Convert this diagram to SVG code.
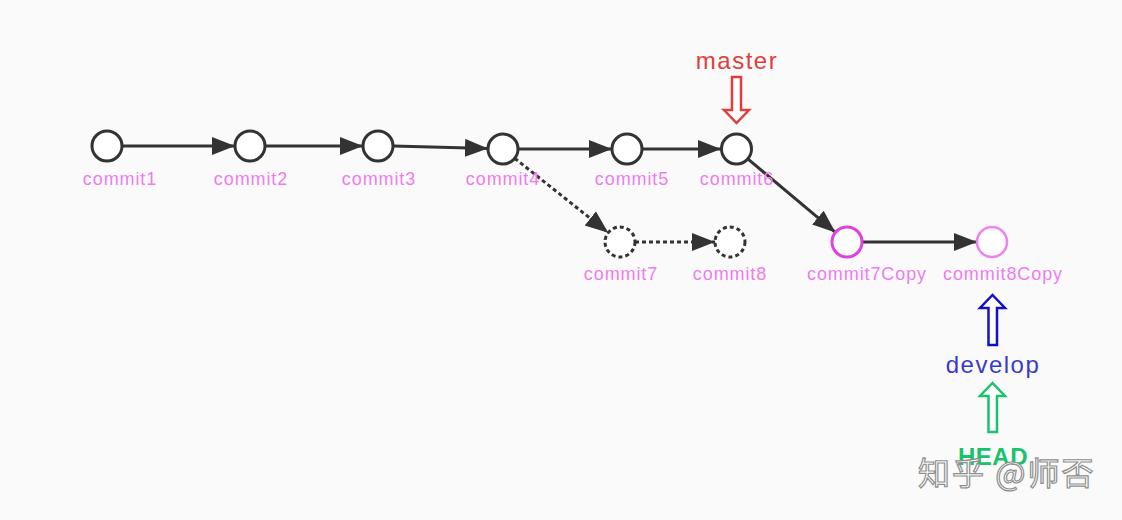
<svg xmlns="http://www.w3.org/2000/svg" width="1122" height="520" viewBox="0 0 1122 520">
<style>
.node{fill:#fff;stroke:#333;stroke-width:3}
.dash{stroke-dasharray:4 3}
.lbl{font-family:"Liberation Sans",Arial,sans-serif;font-size:18px;fill:#ee7cee;text-anchor:middle;letter-spacing:0.9px}
.edge{stroke:#333;stroke-width:3;fill:none}
.big{font-family:"Liberation Sans",Arial,sans-serif;font-size:24px;text-anchor:middle;letter-spacing:1.5px}
.ptr{fill:#fff;stroke-width:2.5}
</style>
<defs>
<marker id="ah" markerUnits="userSpaceOnUse" markerWidth="26" markerHeight="20" refX="23" refY="9" orient="auto">
<path d="M0,0 L23,9 L0,18 z" fill="#333"/>
</marker>
</defs>
<rect width="1122" height="520" fill="#fafafa"/>
<g id="connectors">
<line class="edge" x1="122" y1="146" x2="235" y2="146" marker-end="url(#ah)"/>
<line class="edge" x1="265" y1="146" x2="363" y2="146" marker-end="url(#ah)"/>
<line class="edge" x1="393" y1="146" x2="488" y2="148.5" marker-end="url(#ah)"/>
<line class="edge" x1="518" y1="149" x2="612" y2="149" marker-end="url(#ah)"/>
<line class="edge" x1="642" y1="149" x2="721" y2="149" marker-end="url(#ah)"/>
<line class="edge dash" x1="514.7" y1="158.3" x2="608.3" y2="232.7" marker-end="url(#ah)"/>
<line class="edge dash" x1="635" y1="242" x2="715" y2="242" marker-end="url(#ah)"/>
<line class="edge" x1="747.5" y1="158.6" x2="835.5" y2="232.4" marker-end="url(#ah)"/>
<line class="edge" x1="862" y1="242" x2="977" y2="242" marker-end="url(#ah)"/>
</g>
<g id="commit1"><circle class="node" cx="107" cy="146" r="15"/><text class="lbl" x="120" y="185">commit1</text></g>
<g id="commit2"><circle class="node" cx="250" cy="146" r="15"/><text class="lbl" x="251" y="185">commit2</text></g>
<g id="commit3"><circle class="node" cx="378" cy="146" r="15"/><text class="lbl" x="379" y="185">commit3</text></g>
<g id="commit4"><circle class="node" cx="503" cy="149" r="15"/><text class="lbl" x="503" y="185">commit4</text></g>
<g id="commit5"><circle class="node" cx="627" cy="149" r="15"/><text class="lbl" x="632" y="185">commit5</text></g>
<g id="commit6"><circle class="node" cx="736.5" cy="149" r="15"/><text class="lbl" x="737" y="185">commit6</text></g>
<g id="commit7"><circle class="node dash" cx="620" cy="242" r="15"/><text class="lbl" x="621" y="280">commit7</text></g>
<g id="commit8"><circle class="node dash" cx="730" cy="242" r="15"/><text class="lbl" x="730" y="280">commit8</text></g>
<g id="commit7Copy"><circle class="node" cx="847" cy="242" r="15" style="stroke:#e040e0"/><text class="lbl" x="867" y="280">commit7Copy</text></g>
<g id="commit8Copy"><circle class="node" cx="992" cy="242" r="15" style="stroke:#f080f0;stroke-width:2.5"/><text class="lbl" x="1003" y="280">commit8Copy</text></g>
<g id="master">
<text class="big" x="737" y="69" fill="#e23c3c">master</text>
<polygon class="ptr" stroke="#e23c3c" points="732,77 741,77 741,110 749,110 736.5,123 724,110 732,110"/>
</g>
<g id="develop">
<polygon class="ptr" stroke="#1010c8" points="988.5,345 997,345 997,308 1005,308 992.5,295 980,308 988.5,308"/>
<text class="big" x="993" y="373" fill="#3a3ac8">develop</text>
</g>
<g id="HEAD">
<polygon class="ptr" stroke="#19c26b" points="988.5,432 997,432 997,396 1005,396 992.5,383 980,396 988.5,396"/>
<text class="big" x="993" y="465" fill="#19c26b" style="font-weight:bold;letter-spacing:0.5px">HEAD</text>
</g>
<text x="918" y="485" font-family="'Noto Sans CJK SC',sans-serif" font-size="32" fill="#fff" stroke="#8f8f8f" stroke-width="1.2" letter-spacing="2">知乎 @师否</text>
</svg>
